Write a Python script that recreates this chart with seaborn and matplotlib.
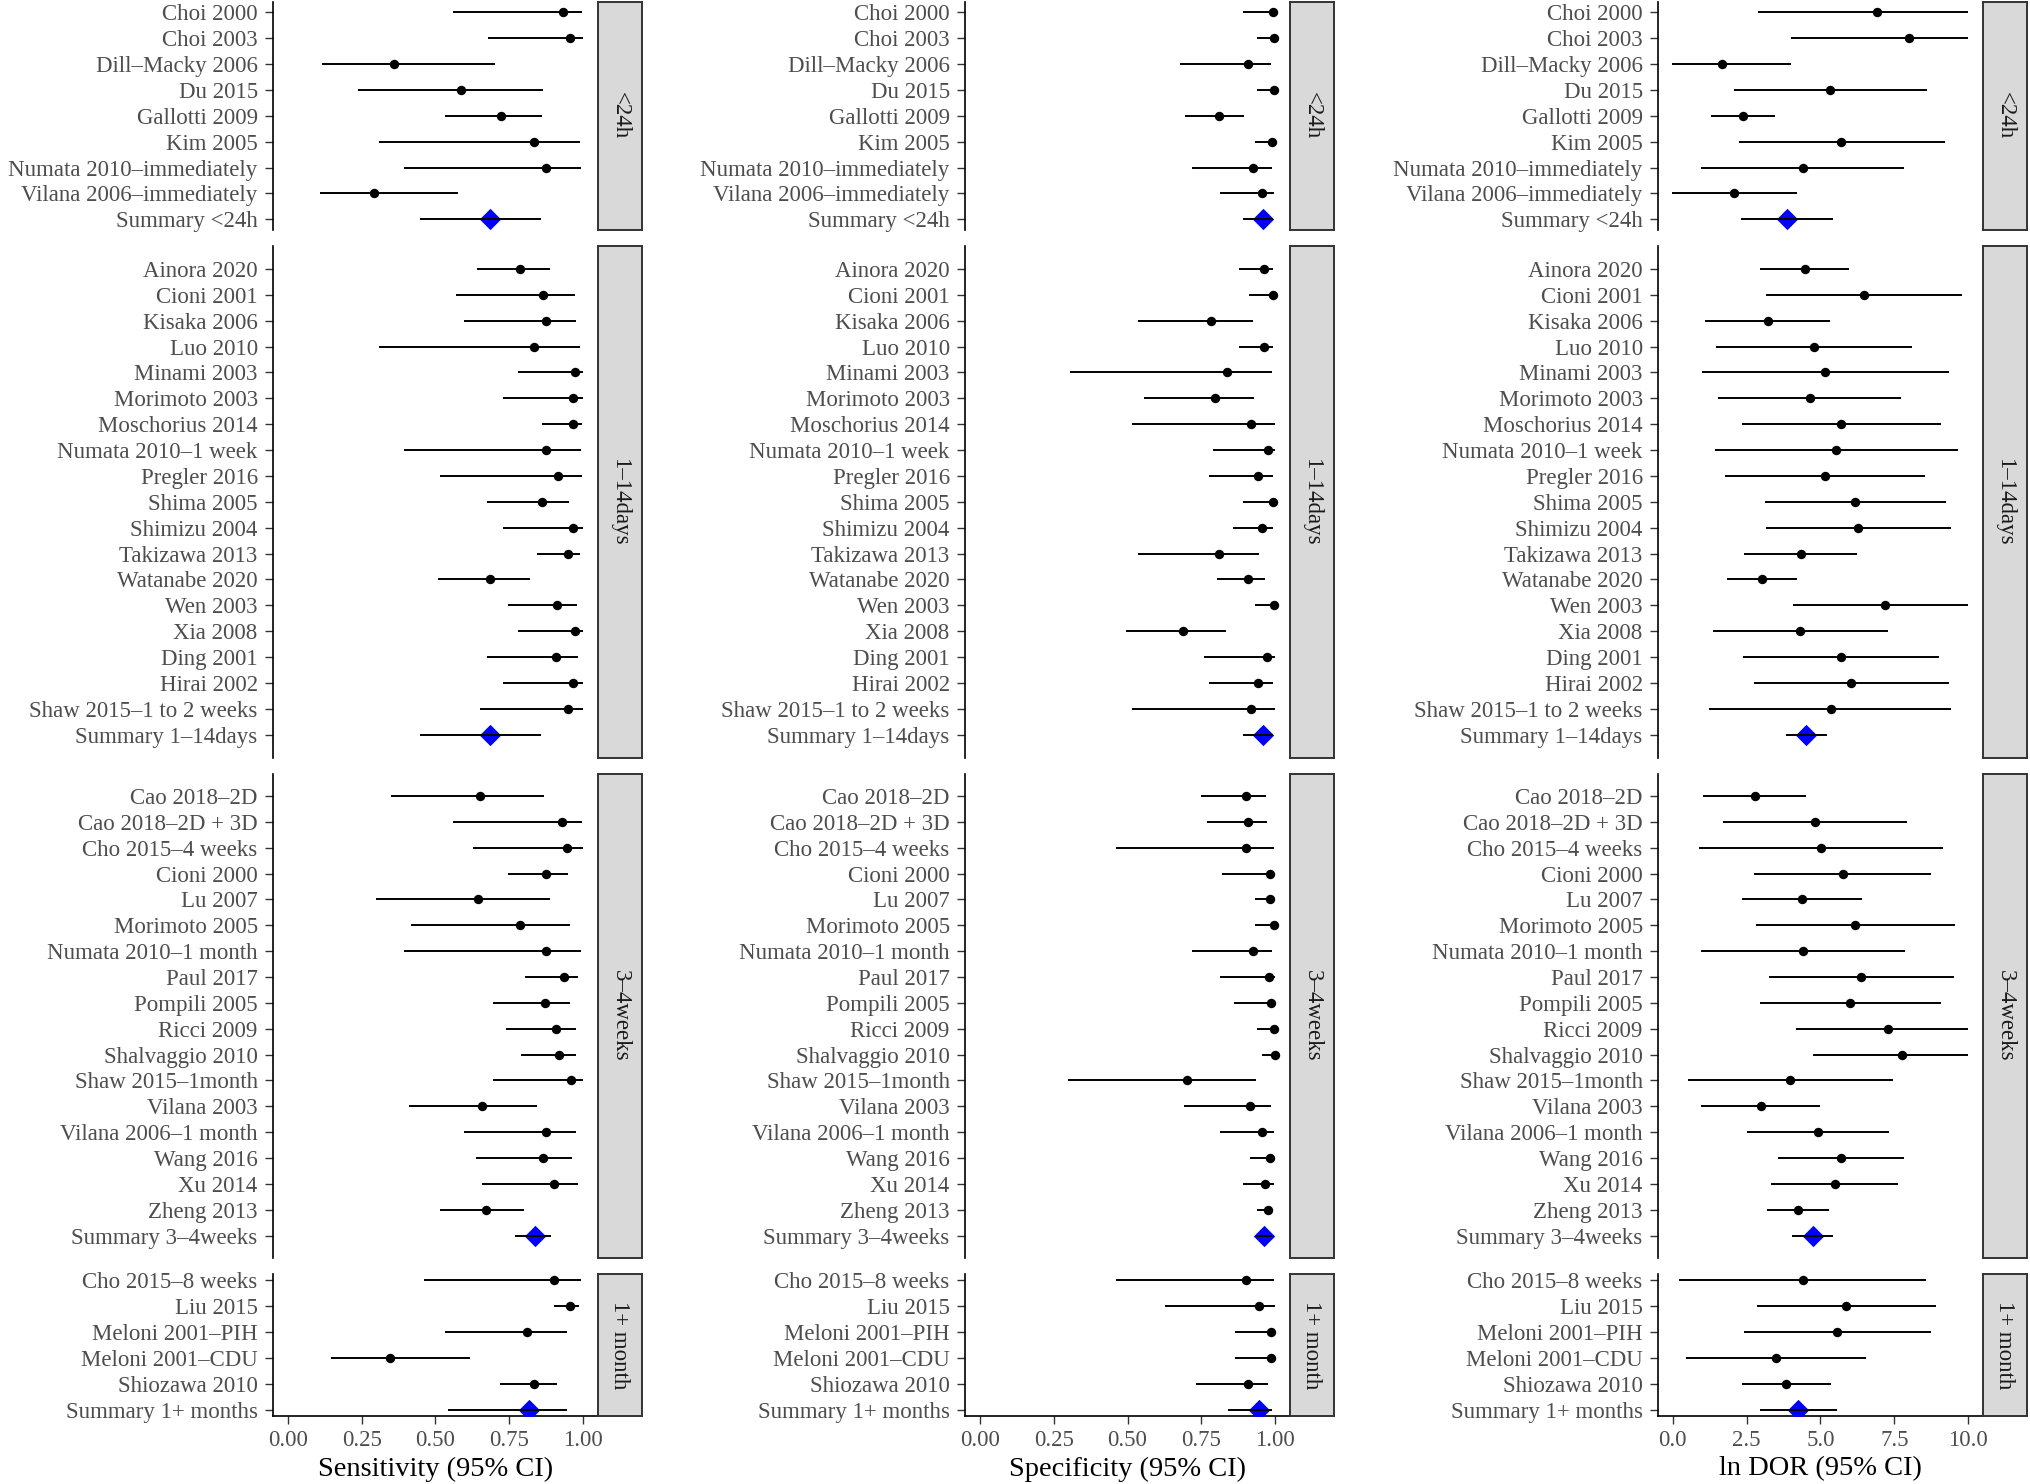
import matplotlib
matplotlib.use("Agg")
import matplotlib.pyplot as plt
import seaborn as sns
import pandas as pd

groups = ["<24h", "1–14days", "3–4weeks", "1+ month"]

studies_24h = ["Choi 2000", "Choi 2003", "Dill–Macky 2006", "Du 2015", "Gallotti 2009",
               "Kim 2005", "Numata 2010–immediately", "Vilana 2006–immediately", "Summary <24h"]
studies_14d = ["Ainora 2020", "Cioni 2001", "Kisaka 2006", "Luo 2010", "Minami 2003",
               "Morimoto 2003", "Moschorius 2014", "Numata 2010–1 week", "Pregler 2016",
               "Shima 2005", "Shimizu 2004", "Takizawa 2013", "Watanabe 2020", "Wen 2003",
               "Xia 2008", "Ding 2001", "Hirai 2002", "Shaw 2015–1 to 2 weeks", "Summary 1–14days"]
studies_4w = ["Cao 2018–2D", "Cao 2018–2D + 3D", "Cho 2015–4 weeks", "Cioni 2000", "Lu 2007",
              "Morimoto 2005", "Numata 2010–1 month", "Paul 2017", "Pompili 2005", "Ricci 2009",
              "Shalvaggio 2010", "Shaw 2015–1month", "Vilana 2003", "Vilana 2006–1 month",
              "Wang 2016", "Xu 2014", "Zheng 2013", "Summary 3–4weeks"]
studies_1m = ["Cho 2015–8 weeks", "Liu 2015", "Meloni 2001–PIH", "Meloni 2001–CDU",
              "Shiozawa 2010", "Summary 1+ months"]

# sensitivity
sens_est = [0.93, 0.955, 0.36, 0.585, 0.723, 0.834, 0.875, 0.292, 0.684,
            0.785, 0.864, 0.875, 0.834, 0.973, 0.965, 0.965, 0.875, 0.916, 0.861, 0.965, 0.948,
            0.684, 0.911, 0.973, 0.907, 0.965, 0.949, 0.684,
            0.651, 0.929, 0.946, 0.875, 0.644, 0.786, 0.875, 0.934, 0.871, 0.908, 0.917, 0.960,
            0.658, 0.875, 0.863, 0.901, 0.672, 0.837,
            0.900, 0.956, 0.808, 0.347, 0.834, 0.815]
sens_lo = [0.559, 0.677, 0.116, 0.239, 0.532, 0.308, 0.393, 0.110, 0.447,
           0.641, 0.568, 0.595, 0.308, 0.778, 0.730, 0.860, 0.393, 0.514, 0.673, 0.730, 0.843,
           0.508, 0.747, 0.778, 0.673, 0.730, 0.652, 0.447,
           0.351, 0.559, 0.626, 0.744, 0.300, 0.418, 0.393, 0.802, 0.695, 0.740, 0.791, 0.696,
           0.412, 0.595, 0.636, 0.657, 0.515, 0.768,
           0.461, 0.900, 0.533, 0.148, 0.719, 0.542]
sens_hi = [0.997, 1.0, 0.701, 0.865, 0.859, 0.988, 0.993, 0.577, 0.856,
           0.886, 0.973, 0.976, 0.988, 1.0, 1.0, 0.997, 0.993, 0.997, 0.953, 1.0, 0.989,
           0.820, 0.978, 1.0, 0.983, 1.0, 1.0, 0.856,
           0.868, 0.997, 0.999, 0.947, 0.887, 0.954, 0.993, 0.983, 0.956, 0.976, 0.974, 1.0,
           0.843, 0.976, 0.962, 0.982, 0.800, 0.891,
           0.994, 0.985, 0.944, 0.616, 0.910, 0.946]

# specificity
spec_est = [0.991, 0.997, 0.909, 0.997, 0.811, 0.988, 0.925, 0.954, 0.960,
            0.962, 0.993, 0.783, 0.962, 0.836, 0.796, 0.919, 0.976, 0.942, 0.991, 0.954, 0.810,
            0.907, 0.996, 0.687, 0.971, 0.943, 0.919, 0.960,
            0.900, 0.907, 0.902, 0.981, 0.981, 0.996, 0.925, 0.980, 0.987, 0.996, 0.999, 0.703,
            0.913, 0.954, 0.982, 0.966, 0.974, 0.962,
            0.902, 0.946, 0.987, 0.987, 0.907, 0.944]
spec_lo = [0.890, 0.937, 0.677, 0.938, 0.695, 0.933, 0.718, 0.813, 0.890,
           0.876, 0.912, 0.535, 0.876, 0.307, 0.556, 0.515, 0.790, 0.775, 0.890, 0.856, 0.535,
           0.802, 0.930, 0.495, 0.759, 0.775, 0.515, 0.890,
           0.750, 0.769, 0.461, 0.820, 0.930, 0.931, 0.718, 0.813, 0.861, 0.937, 0.956, 0.297,
           0.691, 0.813, 0.915, 0.890, 0.939, 0.934,
           0.461, 0.627, 0.865, 0.865, 0.732, 0.841]
spec_hi = [1.0, 1.0, 0.985, 1.0, 0.893, 1.0, 0.989, 0.997, 0.991,
           0.994, 1.0, 0.924, 0.994, 0.989, 0.929, 0.999, 1.0, 0.993, 1.0, 0.992, 0.945,
           0.964, 1.0, 0.835, 1.0, 0.993, 0.999, 0.991,
           0.969, 0.972, 0.997, 1.0, 1.0, 1.0, 0.989, 1.0, 1.0, 1.0, 1.0, 0.935,
           0.987, 0.997, 1.0, 0.997, 0.992, 0.988,
           0.997, 1.0, 1.0, 1.0, 0.976, 0.988]

# ln DOR
dor_est = [6.91, 8.00, 1.67, 5.32, 2.38, 5.71, 4.40, 2.08, 3.86,
           4.46, 6.46, 3.21, 4.77, 5.15, 4.64, 5.71, 5.54, 5.14, 6.17, 6.27, 4.33,
           3.01, 7.17, 4.32, 5.69, 6.04, 5.34, 4.51,
           2.77, 4.81, 5.03, 5.75, 4.37, 6.17, 4.40, 6.37, 6.00, 7.28, 7.76, 3.97,
           2.97, 4.92, 5.69, 5.49, 4.23, 4.75,
           4.40, 5.88, 5.57, 3.51, 3.84, 4.25]
dor_lo = [2.90, 4.00, -0.04, 2.07, 1.30, 2.24, 0.97, -0.01, 2.30,
          2.96, 3.16, 1.10, 1.45, 0.99, 1.54, 2.36, 1.44, 1.77, 3.13, 3.14, 2.42,
          1.83, 4.07, 1.36, 2.38, 2.74, 1.23, 3.83,
          1.03, 1.69, 0.90, 2.76, 2.33, 2.82, 0.94, 3.25, 2.95, 4.16, 4.73, 0.52,
          0.97, 2.50, 3.55, 3.33, 3.18, 4.05,
          0.21, 2.86, 2.41, 0.44, 2.33, 2.95]
dor_hi = [10.0, 10.0, 4.00, 8.59, 3.47, 9.20, 7.83, 4.19, 5.43,
          5.95, 9.80, 5.33, 8.10, 9.34, 7.74, 9.08, 9.67, 8.53, 9.24, 9.41, 6.25,
          4.20, 10.0, 7.30, 9.02, 9.35, 9.43, 5.23,
          4.52, 7.93, 9.15, 8.73, 6.41, 9.54, 7.85, 9.51, 9.07, 10.0, 10.0, 7.44,
          4.99, 7.33, 7.82, 7.63, 5.29, 5.43,
          8.56, 8.91, 8.73, 6.55, 5.34, 5.57]

measures = [("sens", "Sensitivity (95% CI)", [0, 0.25, 0.5, 0.75, 1.0], ["0.00", "0.25", "0.50", "0.75", "1.00"], (-0.05, 1.05)),
            ("spec", "Specificity (95% CI)", [0, 0.25, 0.5, 0.75, 1.0], ["0.00", "0.25", "0.50", "0.75", "1.00"], (-0.05, 1.05)),
            ("dor", "ln DOR (95% CI)", [0, 2.5, 5, 7.5, 10], ["0.0", "2.5", "5.0", "7.5", "10.0"], (-0.5, 10.5))]

rows = []
for g, names in zip(groups, [studies_24h, studies_14d, studies_4w, studies_1m]):
    for i, n in enumerate(names):
        rows.append({"group": g, "study": n, "pos": i, "summary": n.startswith("Summary")})
df = pd.DataFrame(rows)
df["sens"], df["sens_lo"], df["sens_hi"] = sens_est, sens_lo, sens_hi
df["spec"], df["spec_lo"], df["spec_hi"] = spec_est, spec_lo, spec_hi
df["dor"], df["dor_lo"], df["dor_hi"] = dor_est, dor_lo, dor_hi

sns.set_style("white")
plt.rcParams["font.family"] = ["Liberation Serif", "DejaVu Serif"]

W, H = 2031, 1484
fig = plt.figure(figsize=(W / 100, H / 100), dpi=100)

col_left = [273, 965, 1658]
panel_w = 325
strip_w = 44
top, bottom, gap = 2, 1416, 16
spans = [(len(s) - 1) * 1.1 for s in [studies_24h, studies_14d, studies_4w, studies_1m]]
unit = (bottom - top - gap * 3) / sum(spans)

txt_grey = "#4D4D4D"
line_c = "#333333"

for c, (m, xlab, xt, xtl, xl) in enumerate(measures):
    y0 = top
    for r, g in enumerate(groups):
        h = spans[r] * unit
        ax = fig.add_axes([col_left[c] / W, 1 - (y0 + h) / H, panel_w / W, h / H])
        sax = fig.add_axes([(col_left[c] + panel_w) / W, 1 - (y0 + h) / H, strip_w / W, h / H])
        sub = df[df.group == g]
        n = len(sub)
        st = sub[~sub.summary]
        sm = sub[sub.summary]

        ax.hlines(st["pos"], st[m + "_lo"], st[m + "_hi"], color="black", lw=1.4, zorder=2)
        sns.scatterplot(data=st, x=m, y="pos", ax=ax, color="black", s=46, linewidth=0,
                        zorder=3, legend=False)
        sns.scatterplot(data=sm, x=m, y="pos", ax=ax, color="#0000FF", marker="D", s=118,
                        linewidth=0, zorder=3, legend=False)
        ax.hlines(sm["pos"], sm[m + "_lo"], sm[m + "_hi"], color="black", lw=1.4, zorder=4)

        ax.set_xlim(*xl)
        ax.set_ylim((n - 1) * 1.05, -(n - 1) * 0.05)
        ax.set_yticks(sub["pos"])
        ax.set_yticklabels(sub["study"], fontsize=16.5, color=txt_grey)
        ax.tick_params(axis="y", length=6, width=1.0, color=line_c, pad=5, left=True)
        ax.set_ylabel("")
        ax.spines["left"].set_color("black")
        ax.spines["left"].set_linewidth(1.2)
        if r == len(groups) - 1:
            sns.despine(ax=ax)
            ax.spines["bottom"].set_color("black")
            ax.spines["bottom"].set_linewidth(1.2)
            ax.set_xticks(xt)
            ax.set_xticklabels(xtl, fontsize=16.5, color=txt_grey)
            ax.tick_params(axis="x", length=6, width=1.0, color=line_c, pad=4, bottom=True)
            ax.set_xlabel(xlab, fontsize=20.5, color="black", labelpad=4)
        else:
            sns.despine(ax=ax, bottom=True)
            ax.set_xticks([])
            ax.set_xlabel("")

        sax.set_facecolor("#D9D9D9")
        sax.set_xticks([])
        sax.set_yticks([])
        for sp in sax.spines.values():
            sp.set_visible(True)
            sp.set_color(line_c)
            sp.set_linewidth(1.4)
        sax.text(0.5, 0.5, g, rotation=-90, ha="center", va="center", fontsize=16.5,
                 color="#1A1A1A", transform=sax.transAxes)
        y0 += h + gap

fig.savefig("out.png", dpi=100)
